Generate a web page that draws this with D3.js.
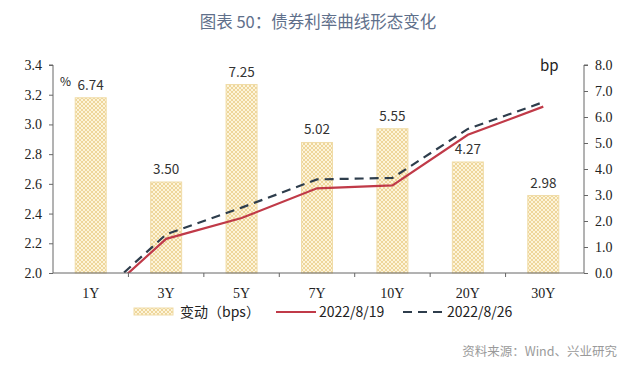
<!DOCTYPE html>
<html lang="zh">
<head>
<meta charset="UTF-8">
<title>债券利率曲线形态变化</title>
<script src="https://d3js.org/d3.v7.min.js"></script>
<style>
  body { margin: 0; background: #fff; }
  svg text { font-family: "Noto Sans CJK SC", "Noto Sans", sans-serif; }
  .axis text { font-family: "Liberation Serif", serif; font-size: 14px; fill: #222; }
  .axis path, .axis line { stroke: #666; }
</style>
</head>
<body>
<script>
// data
var cats = ["1Y", "3Y", "5Y", "7Y", "10Y", "20Y", "30Y"];
var change = [6.74, 3.50, 7.25, 5.02, 5.55, 4.27, 2.98];      // bp
var rate0819 = [1.77, 2.23, 2.37, 2.57, 2.59, 2.93, 3.12];     // %
var rate0826 = [1.80, 2.26, 2.44, 2.63, 2.64, 2.97, 3.15];     // %
var leftTicks = [2.0, 2.2, 2.4, 2.6, 2.8, 3.0, 3.2, 3.4];
var rightTicks = [0, 1, 2, 3, 4, 5, 6, 7, 8];

var w = 640, h = 374;
var m = {left: 53, right: 59, top: 65, bottom: 101};

var svg = d3.select("body").append("svg")
  .attr("width", w).attr("height", h);

// hatch pattern for bars
var defs = svg.append("defs");
var pat = defs.append("pattern")
  .attr("id", "hatch")
  .attr("patternUnits", "userSpaceOnUse")
  .attr("width", 4).attr("height", 4);
pat.append("rect").attr("width", 4).attr("height", 4).attr("fill", "#fdf4da");
pat.append("path").attr("d", "M0,0L4,4M4,0L0,4")
  .attr("stroke", "#ecd394").attr("stroke-width", 0.9);

defs.append("clipPath").attr("id", "plot")
  .append("rect")
  .attr("x", m.left).attr("y", m.top)
  .attr("width", w - m.left - m.right)
  .attr("height", h - m.top - m.bottom);

var x = d3.scaleBand().domain(cats)
  .range([m.left, w - m.right]).paddingInner(0).paddingOuter(0);
var yL = d3.scaleLinear().domain([2.0, 3.4]).range([h - m.bottom, m.top]);
var yR = d3.scaleLinear().domain([0, 8]).range([h - m.bottom, m.top]);

var barW = 31;

// title
svg.append("text")
  .attr("x", 318).attr("y", 28)
  .attr("text-anchor", "middle")
  .attr("font-size", 16.5)
  .attr("fill", "#5f708b")
  .text("图表 50：债券利率曲线形态变化");

// bars
svg.selectAll("rect.bar").data(change).enter().append("rect")
  .attr("class", "bar")
  .attr("x", function(d, i){ return x(cats[i]) + x.bandwidth() / 2 - barW / 2; })
  .attr("y", function(d){ return yR(d); })
  .attr("width", barW)
  .attr("height", function(d){ return yR(0) - yR(d); })
  .attr("fill", "url(#hatch)")
  .attr("stroke", "#f0dca8")
  .attr("stroke-width", 1);

svg.selectAll("text.blab").data(change).enter().append("text")
  .attr("class", "blab")
  .attr("x", function(d, i){ return x(cats[i]) + x.bandwidth() / 2; })
  .attr("y", function(d){ return yR(d) - 8; })
  .attr("text-anchor", "middle")
  .attr("font-size", 13.5)
  .attr("fill", "#333")
  .text(function(d){ return d.toFixed(2); });

// lines
var line = d3.line()
  .x(function(d, i){ return x(cats[i]) + x.bandwidth() / 2; })
  .y(function(d){ return yL(d); });

var g = svg.append("g").attr("clip-path", "url(#plot)");
g.append("path").datum(rate0819)
  .attr("d", line)
  .attr("fill", "none")
  .attr("stroke", "#c03a48")
  .attr("stroke-width", 2.2);
g.append("path").datum(rate0826)
  .attr("d", line)
  .attr("fill", "none")
  .attr("stroke", "#2e3d4c")
  .attr("stroke-width", 2.2)
  .attr("stroke-dasharray", "9,6");

// axes
svg.append("g").attr("class", "axis")
  .attr("transform", "translate(" + m.left + ",0)")
  .call(d3.axisLeft(yL).tickValues(leftTicks).tickFormat(d3.format(".1f"))
    .tickSize(4).tickPadding(7))
  .call(function(s){ s.select(".domain").attr("d", "M-4," + yL(3.4) + "H0V" + yL(2.0)); });

svg.append("g").attr("class", "axis")
  .attr("transform", "translate(" + (w - m.right + 3) + ",0)")
  .call(d3.axisRight(yR).tickValues(rightTicks).tickFormat(d3.format(".1f"))
    .tickSize(4).tickPadding(7))
  .call(function(s){ s.select(".domain").attr("d", "M4," + yR(8) + "H0V" + yR(0)); });

var xa = svg.append("g").attr("class", "axis")
  .attr("transform", "translate(0," + (h - m.bottom) + ")");
xa.append("line")
  .attr("x1", m.left).attr("x2", w - m.right + 3)
  .attr("stroke", "#666");
xa.selectAll("line.tk").data(cats.slice(1)).enter().append("line")
  .attr("class", "tk")
  .attr("x1", function(d){ return x(d); }).attr("x2", function(d){ return x(d); })
  .attr("y1", 0).attr("y2", 4).attr("stroke", "#666");
xa.selectAll("text").data(cats).enter().append("text")
  .attr("x", function(d){ return x(d) + x.bandwidth() / 2; })
  .attr("y", 25)
  .attr("text-anchor", "middle")
  .text(function(d){ return d; });

// unit labels
svg.append("text").attr("x", 60).attr("y", 86)
  .attr("font-size", 12).attr("fill", "#222").text("%");
svg.append("text").attr("x", 540).attr("y", 71)
  .attr("font-size", 15).attr("fill", "#222").text("bp");

// legend
var ly = 312;
var lg = svg.append("g").attr("font-size", 14).attr("fill", "#222");
lg.append("rect").attr("x", 134).attr("y", ly - 4).attr("width", 39).attr("height", 7)
  .attr("fill", "url(#hatch)").attr("stroke", "#f0dca8");
lg.append("text").attr("x", 180).attr("y", ly + 5).text("变动（bps）");
lg.append("line").attr("x1", 276).attr("x2", 316).attr("y1", ly).attr("y2", ly)
  .attr("stroke", "#c03a48").attr("stroke-width", 2.2);
lg.append("text").attr("x", 319).attr("y", ly + 5).text("2022/8/19");
lg.append("line").attr("x1", 403).attr("x2", 446).attr("y1", ly).attr("y2", ly)
  .attr("stroke", "#2e3d4c").attr("stroke-width", 2.2).attr("stroke-dasharray", "9,6");
lg.append("text").attr("x", 447).attr("y", ly + 5).text("2022/8/26");

// source
svg.append("text")
  .attr("x", 617).attr("y", 356)
  .attr("text-anchor", "end")
  .attr("font-size", 12.5)
  .attr("fill", "#9a9a9a")
  .text("资料来源：Wind、兴业研究");
</script>
</body>
</html>
